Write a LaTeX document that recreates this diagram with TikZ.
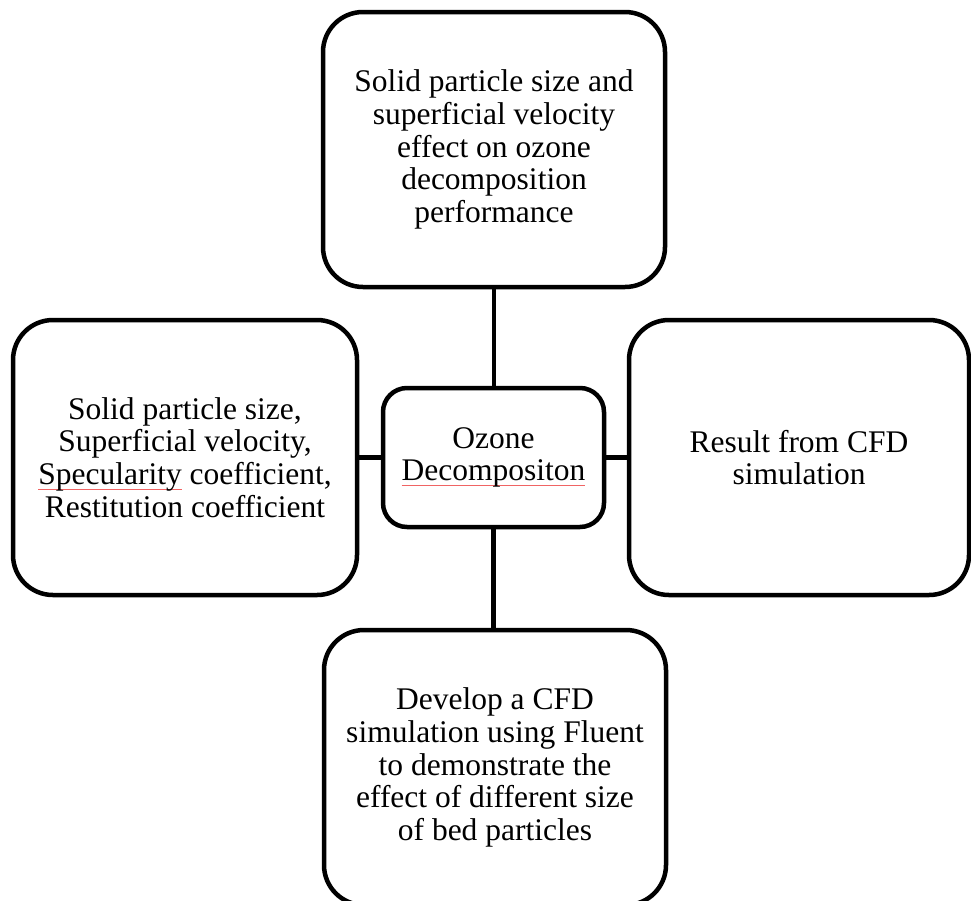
\documentclass[tikz,border=0pt]{standalone}
\usepackage{fontspec}
\setmainfont{Liberation Serif}
\definecolor{spellred}{RGB}{240,100,100}
\newcommand\spellmark[1]{\setbox0\hbox{#1}\leavevmode\rlap{\textcolor{spellred}{\rule[-5pt]{\wd0}{1pt}}}\box0}
\begin{document}
\begin{tikzpicture}[x=1pt,y=-1pt,
  boxstyle/.style={draw=black,line width=4.5pt,rounded corners=40pt,fill=white,
    align=center,inner sep=0pt,font=\fontsize{31.5}{32.8}\selectfont},
  hubstyle/.style={boxstyle,rounded corners=24pt},
  linkstyle/.style={draw=black,line width=4.5pt}]
\useasboundingbox (0,0) rectangle (971,900);
\clip (0,0) rectangle (971,900);
\fill[white] (0,0) rectangle (971,900);
\node[boxstyle,minimum width=342pt,minimum height=275pt] (top) at (494,149.5)
  {Solid particle size and\\superficial velocity\\effect on ozone\\decomposition\\performance};
\node[boxstyle,minimum width=344pt,minimum height=275pt] (left) at (185,457.5)
  {Solid particle size,\\Superficial velocity,\\\spellmark{Specularity}\ coefficient,\\Restitution coefficient};
\node[boxstyle,minimum width=340pt,minimum height=275pt] (right) at (799,457.5)
  {Result from CFD\\simulation};
\node[boxstyle,minimum width=342pt,minimum height=275pt] (bottom) at (495,767.5)
  {Develop a CFD\\simulation using Fluent\\to demonstrate the\\effect of different size\\of bed particles};
\node[hubstyle,minimum width=221pt,minimum height=139pt] (hub) at (493.5,457.5)
  {Ozone\\\spellmark{Decompositon}};
\draw[linkstyle] (top.south) -- (top.south |- hub.north);
\draw[linkstyle] (hub.south) -- (hub.south |- bottom.north);
\draw[linkstyle] (left.east) -- (hub.west);
\draw[linkstyle] (hub.east) -- (right.west);
\end{tikzpicture}
\end{document}
